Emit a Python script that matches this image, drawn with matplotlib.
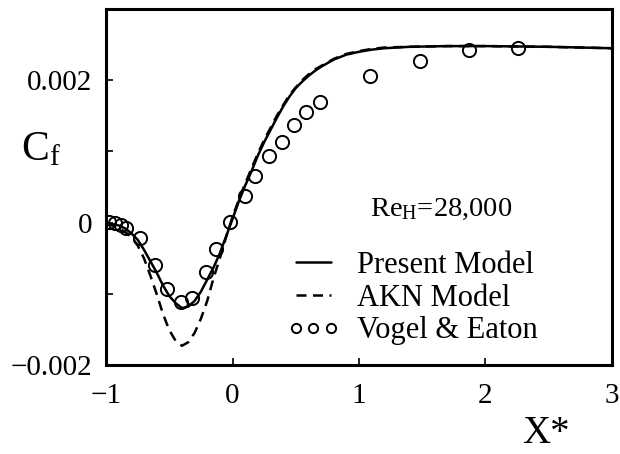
import matplotlib
matplotlib.use("Agg")
import matplotlib.pyplot as plt
from matplotlib.ticker import FixedLocator, FuncFormatter

plt.rcParams['font.family'] = ['Liberation Serif', 'DejaVu Serif']
plt.rcParams['mathtext.fontset'] = 'custom'
plt.rcParams['mathtext.rm'] = 'Liberation Serif'
plt.rcParams['mathtext.it'] = 'Liberation Serif'

# ---- data ----
present_x = [-1.0, -0.95, -0.9, -0.85, -0.8, -0.75, -0.7, -0.65, -0.6, -0.55, -0.5, -0.45,
             -0.4, -0.35, -0.3, -0.25, -0.2, -0.15, -0.1, -0.05, 0.0, 0.05, 0.1, 0.15,
             0.2, 0.25, 0.3, 0.35, 0.4, 0.45, 0.5, 0.55, 0.6, 0.65, 0.7, 0.8, 0.9, 1.0,
             1.1, 1.2, 1.4, 1.7, 2.0, 2.5, 3.0]
present_cf = [-0.00001, -0.00002, -0.00004, -0.00008, -0.00015, -0.00024, -0.00038, -0.00054,
              -0.0007, -0.00088, -0.00103, -0.00113, -0.0012, -0.00118, -0.0011, -0.00097,
              -0.0008, -0.00063, -0.00043, -0.00019, 0.00005, 0.0003, 0.00052, 0.00072,
              0.00094, 0.00113, 0.0013, 0.00147, 0.00163, 0.00177, 0.00189, 0.00198,
              0.00206, 0.00213, 0.00219, 0.00229, 0.00236, 0.0024, 0.00243, 0.00245,
              0.00247, 0.00248, 0.00248, 0.00247, 0.00245]

akn_x = [-1.0, -0.95, -0.9, -0.85, -0.8, -0.75, -0.7, -0.65, -0.6, -0.55, -0.5, -0.45,
         -0.4, -0.35, -0.3, -0.25, -0.2, -0.15, -0.1, -0.05, 0.0, 0.05, 0.1, 0.15,
         0.2, 0.25, 0.3, 0.35, 0.4, 0.45, 0.5, 0.55, 0.6, 0.65, 0.7, 0.8, 0.9, 1.0,
         1.1, 1.2, 1.4, 1.7, 2.0, 2.5, 3.0]
akn_cf = [-0.00002, -0.00004, -0.00008, -0.00013, -0.0002, -0.00032, -0.0005, -0.00074,
          -0.001, -0.00128, -0.00151, -0.00166, -0.00173, -0.00168, -0.00155, -0.00135,
          -0.0011, -0.00078, -0.0005, -0.0002, 0.00008, 0.00032, 0.00055, 0.00076,
          0.00097, 0.00116, 0.00133, 0.0015, 0.00165, 0.00179, 0.0019, 0.002,
          0.00208, 0.00215, 0.0022, 0.0023, 0.00237, 0.00241, 0.00244, 0.00246,
          0.00247, 0.00248, 0.00248, 0.00247, 0.00245]

exp_x = [-0.98, -0.93, -0.88, -0.84, -0.73, -0.61, -0.52, -0.41, -0.32, -0.21, -0.13,
         -0.02, 0.10, 0.18, 0.29, 0.39, 0.49, 0.58, 0.69, 1.09, 1.48, 1.87, 2.26]
exp_cf = [0.00001, 0.0, -0.00003, -0.00007, -0.00021, -0.00059, -0.00093, -0.00111,
          -0.00106, -0.0007, -0.00037, 0.00001, 0.00037, 0.00065, 0.00094, 0.00113,
          0.00137, 0.00155, 0.0017, 0.00206, 0.00227, 0.00242, 0.00246]

x_ticks = [-1, 0, 1, 2, 3]
y_ticks = [-0.002, -0.001, 0.0, 0.001, 0.002]
y_tick_labels = {-0.002: '\u22120.002', 0.0: '0', 0.002: '0.002'}

fig = plt.figure(figsize=(6.2, 4.54), dpi=100)
ax = fig.add_axes([0.171, 0.196, 0.816, 0.784])

ax.plot(present_x, present_cf, color='black', lw=1.8, solid_capstyle='round',
        label='Present Model')
ax.plot(akn_x, akn_cf, color='black', lw=1.8, linestyle=(0, (4.0, 2.6)),
        label='AKN Model')
ax.plot(exp_x, exp_cf, linestyle='none', marker='o', markersize=9.5,
        markerfacecolor='none', markeredgecolor='black', markeredgewidth=1.4,
        label='Vogel & Eaton')

ax.set_xlim(-1, 3)
ax.set_ylim(-0.002, 0.003)
ax.xaxis.set_major_locator(FixedLocator(x_ticks))
ax.yaxis.set_major_locator(FixedLocator(y_ticks))
ax.xaxis.set_major_formatter(FuncFormatter(lambda v, p: ('\u2212%d' % abs(v)) if v < 0 else '%d' % v))
ax.yaxis.set_major_formatter(FuncFormatter(
    lambda v, p: next((lab for k, lab in y_tick_labels.items() if abs(k - v) < 1e-9), '')))
ax.tick_params(direction='in', length=5, width=1.2, labelsize=21, top=False, right=False)
ax.tick_params(axis='x', pad=13)
ax.tick_params(axis='y', pad=10)
for s in ax.spines.values():
    s.set_linewidth(2.2)

ax.text(1.65, 0.00018, 'Re$_{\\mathrm{H}}$=28,000', fontsize=20.5, ha='center', va='center')

leg = ax.legend(loc='upper left', bbox_to_anchor=(0.333, 0.355), frameon=False,
                fontsize=22, numpoints=3, markerscale=0.7, handlelength=1.75,
                handletextpad=0.55, labelspacing=0.12, borderaxespad=0)

fig.text(0.066, 0.67, 'C$_{\\mathrm{f}}$', fontsize=30, ha='center', va='center')
fig.text(0.88, 0.045, 'X*', fontsize=28, ha='center', va='center')

fig.savefig('out.png', dpi=100)
